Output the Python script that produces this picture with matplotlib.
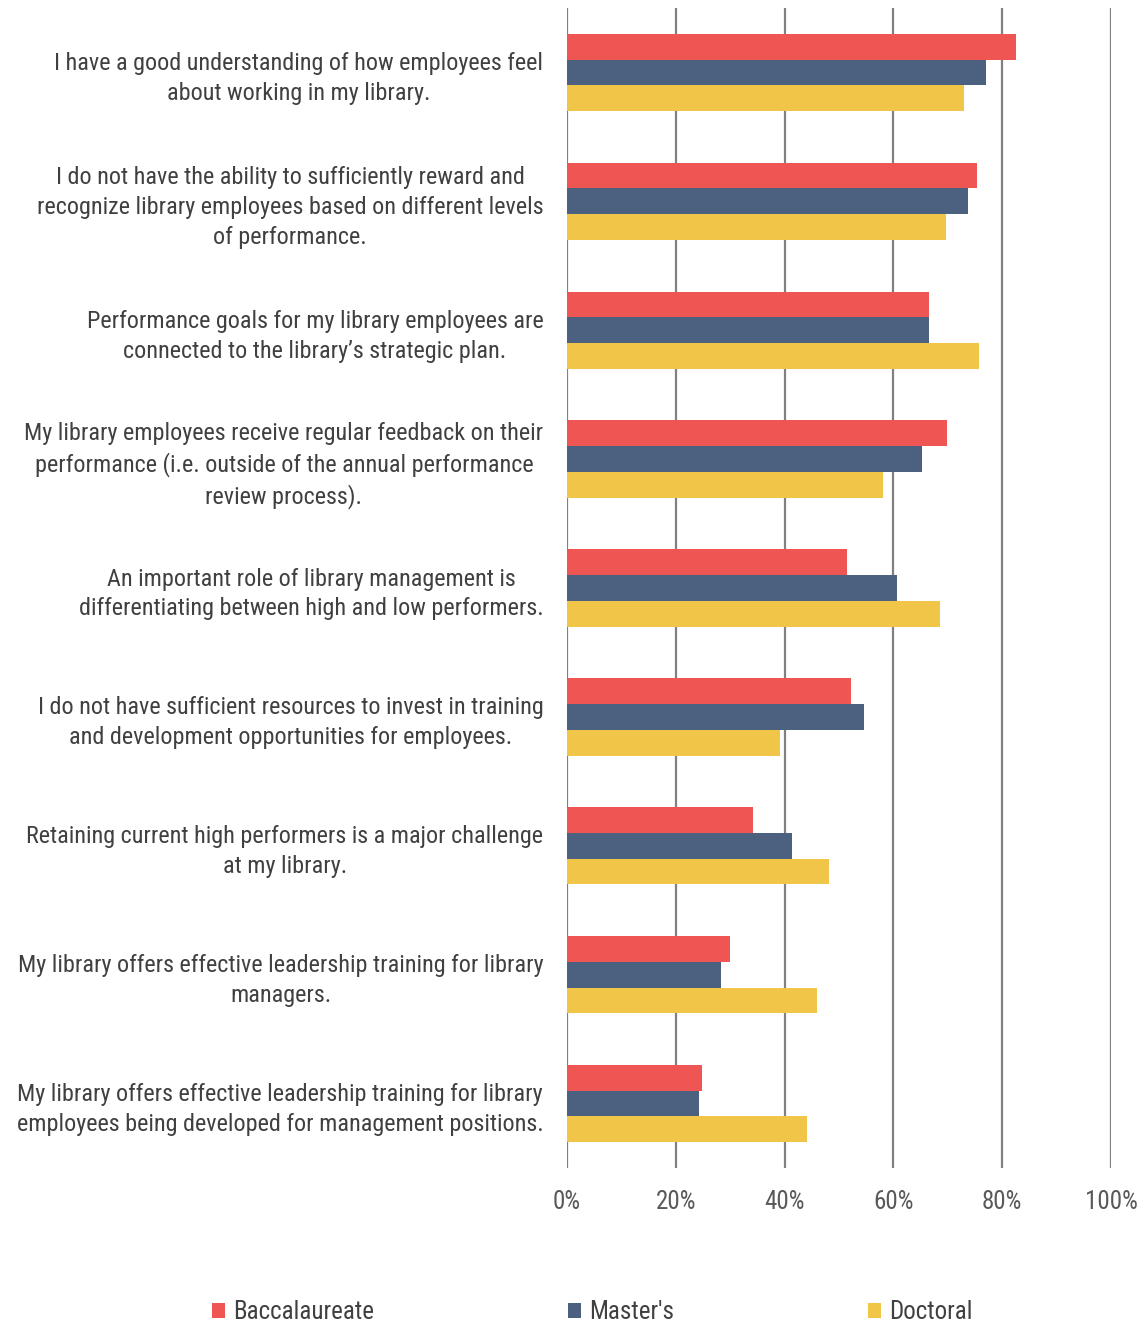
import matplotlib
matplotlib.use("Agg")
import matplotlib.pyplot as plt
from matplotlib.patches import Patch
from matplotlib.ticker import PercentFormatter
import numpy as np

categories = [
    "I have a good understanding of how employees feel\nabout working in my library.",
    "I do not have the ability to sufficiently reward and\nrecognize library employees based on different levels\nof performance.",
    "Performance goals for my library employees are\nconnected to the library\u2019s strategic plan.",
    "My library employees receive regular feedback on their\nperformance (i.e. outside of the annual performance\nreview process).",
    "An important role of library management is\ndifferentiating between high and low performers.",
    "I do not have sufficient resources to invest in training\nand development opportunities for employees.",
    "Retaining current high performers is a major challenge\nat my library.",
    "My library offers effective leadership training for library\nmanagers.",
    "My library offers effective leadership training for library\nemployees being developed for management positions.",
]
series_names = ["Baccalaureate", "Master's", "Doctoral"]
baccalaureate = [82.5, 75.4, 66.5, 69.9, 51.5, 52.2, 34.2, 30.0, 24.8]
masters = [77.0, 73.7, 66.5, 65.3, 60.7, 54.6, 41.4, 28.3, 24.3]
doctoral = [73.0, 69.7, 75.7, 58.1, 68.6, 39.2, 48.2, 46.0, 44.1]
xticks = [0, 20, 40, 60, 80, 100]

colors = ["#EF5552", "#4C6180", "#F0C548"]
text_color = "#404040"

plt.rcParams['font.family'] = ['Roboto Condensed', 'Archivo Narrow', 'Liberation Sans', 'DejaVu Sans']

fig = plt.figure(figsize=(11.46, 13.23), dpi=100)
ax = fig.add_axes([567/1146, 1 - 1168/1323, (1111-567)/1146, (1168-8)/1323])

y = np.arange(len(categories))
h = 0.2
for k, vals in enumerate([baccalaureate, masters, doctoral]):
    ax.barh(y + (k - 1) * h, vals, height=h, color=colors[k], label=series_names[k], zorder=3)

ax.set_xlim(0, 100)
ax.set_ylim(len(categories) - 0.5, -0.5)
ax.set_xticks(xticks)
ax.xaxis.set_major_formatter(PercentFormatter(decimals=0))
ax.set_yticks(y)
ax.set_yticklabels(categories, ha='right', multialignment='center', linespacing=1.38)
ax.tick_params(axis='y', length=0, pad=17, labelsize=17.4, labelcolor=text_color)
ax.tick_params(axis='x', length=0, pad=16, labelsize=18, labelcolor="#595959")
ax.grid(axis='x', color="#808080", linewidth=1.6, zorder=0)
for s in ax.spines.values():
    s.set_visible(False)

handles = [Patch(facecolor=c, edgecolor='none') for c in colors]
fig.legend(handles, series_names, loc='center', bbox_to_anchor=(0.5165, 0.008), ncol=3,
           frameon=False, fontsize=18, labelcolor=text_color, handlelength=0.55, handleheight=0.55,
           handletextpad=0.3, columnspacing=7.75, borderpad=0, borderaxespad=0)

fig.savefig("out.png", dpi=100)
